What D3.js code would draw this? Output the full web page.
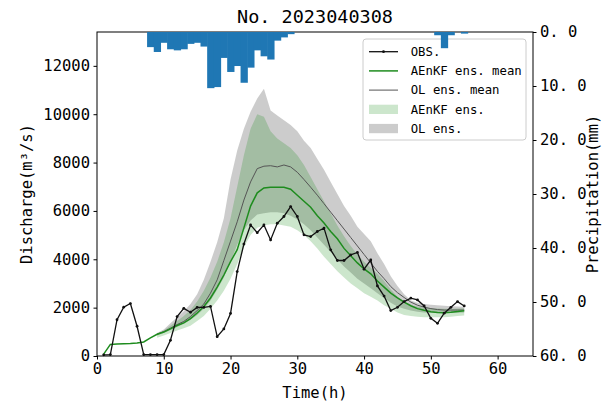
<!DOCTYPE html>
<meta charset="utf-8">
<script src="https://d3js.org/d3.v7.min.js"></script>
<style>
  body { margin: 0; background: #fff; }
  text { font-family: "DejaVu Sans Mono", "Liberation Mono", monospace; }
</style>
<div id="my_dataviz"></div>
<script>

// ---- data ----
// hourly series, hour 1 .. 55
var hours = d3.range(1, 56);
var obs = [50, 60, 1500, 2020, 2170, 1230, 60, 60, 60, 60,
  650, 1630, 1970, 1810, 2010, 2010, 2050, 800, 1120, 1760,
  3490, 4630, 5420, 5100, 5420, 4800, 5490, 5770, 6180, 5770,
  5010, 4940, 5150, 5290, 4390, 3950, 3950, 4180, 4280, 3590,
  3970, 2900, 2480, 1880, 2015, 2250, 2390, 2320, 2070, 1560,
  1350, 1770, 2015, 2250, 2070];
var aenkfMean = [80, 480, 500, 510, 520, 540, 580, 750, 900, 990,
  1120, 1260, 1370, 1550, 1780, 2050, 2400, 2850, 3350, 3900,
  4400, 5300, 6200, 6750, 6950, 6980, 6980, 6980, 6900, 6650,
  6400, 6150, 5800, 5500, 5150, 4850, 4450, 4150, 3850, 3600,
  3400, 3100, 2850, 2600, 2400, 2230, 2080, 1960, 1890, 1830,
  1800, 1790, 1810, 1840, 1870];

// ensemble series, hour 9 .. 55
var ensHours = d3.range(9, 56);
var olMean = [900, 1010, 1150, 1300, 1430, 1630, 1880, 2150, 2600, 3150,
  3950, 4750, 5550, 6450, 7200, 7750, 7850, 7870, 7820, 7900,
  7820, 7600, 7300, 6980, 6650, 6300, 5950, 5600, 5250, 4900,
  4550, 4200, 3850, 3500, 3200, 2870, 2620, 2420, 2230, 2100,
  2020, 1960, 1920, 1900, 1900, 1900, 1900];
var olUpper = [950, 1100, 1350, 1600, 1850, 2150, 2550, 3150, 3900, 4700,
  5700, 7300, 8500, 9400, 10100, 10650, 11050, 10150, 9950, 9750,
  9550, 9300, 8900, 8600, 8150, 7700, 7200, 6700, 6200, 5800,
  5350, 5050, 4750, 4250, 3800, 3300, 2900, 2550, 2300, 2200,
  2150, 2120, 2100, 2080, 2060, 2050, 2040];
var olLower = [850, 950, 1080, 1200, 1330, 1500, 1700, 1950, 2300, 2750,
  3250, 3900, 4600, 5200, 5600, 5850, 5900, 5950, 5950, 5900,
  5800, 5650, 5450, 5200, 4900, 4600, 4300, 4000, 3700, 3450,
  3200, 3000, 2800, 2600, 2400, 2200, 2050, 1950, 1880, 1830,
  1800, 1790, 1780, 1780, 1780, 1790, 1800];
var aenkfUpper = [920, 1050, 1250, 1450, 1650, 1900, 2250, 2700, 3250, 3900,
  4700, 5700, 7000, 8300, 9400, 10000, 9900, 9300, 9000, 8800,
  8600, 8300, 7900, 7400, 6900, 6400, 5900, 5400, 4950, 4550,
  4200, 3900, 3650, 3400, 3100, 2750, 2450, 2250, 2100, 2050,
  2000, 1980, 1960, 1950, 1950, 1960, 1970];
var aenkfLower = [750, 850, 950, 1050, 1150, 1250, 1450, 1650, 1950, 2300,
  2700, 3200, 3800, 4500, 5000, 5300, 5400, 5450, 5450, 5400,
  5350, 5200, 5000, 4750, 4450, 4100, 3800, 3500, 3250, 3000,
  2800, 2600, 2450, 2300, 2100, 1950, 1800, 1700, 1650, 1620,
  1600, 1600, 1600, 1600, 1620, 1650, 1680];

// precipitation bars (mm)
var precipHours = [8, 9, 10, 11, 12, 13, 14, 15, 16, 17, 18, 19, 20, 21, 22, 23, 24, 25, 26, 27, 28, 29, 51, 52, 53, 55];
var precipValues = [2.8, 3.7, 2.0, 3.2, 3.4, 3.2, 2.2, 2.0, 2.7, 10.4, 10.2, 4.8, 7.4, 6.3, 9.4, 6.6, 3.4, 4.5, 5.1, 1.6, 1.0, 0.4, 0.6, 3.0, 0.6, 0.3];

var xTicks = [0, 10, 20, 30, 40, 50, 60];
var yTicks = [0, 2000, 4000, 6000, 8000, 10000, 12000];
var pTicks = [0, 10, 20, 30, 40, 50, 60];

var legendItems = [
  {label: "OBS.", kind: "obs"},
  {label: "AEnKF ens. mean", kind: "aenkfLine"},
  {label: "OL ens. mean", kind: "olLine"},
  {label: "AEnKF ens.", kind: "aenkfBand"},
  {label: "OL ens.", kind: "olBand"}
];

// ---- layout ----
var margin = {top: 32, right: 70, bottom: 52, left: 97},
    width = 603 - margin.left - margin.right,
    height = 408 - margin.top - margin.bottom;

var svg = d3.select("#my_dataviz")
  .append("svg")
    .attr("width", width + margin.left + margin.right)
    .attr("height", height + margin.top + margin.bottom)
  .append("g")
    .attr("transform", "translate(" + margin.left + "," + margin.top + ")");

var x = d3.scaleLinear().domain([0, 65.3]).range([0, width]);
var y = d3.scaleLinear().domain([0, 13400]).range([height, 0]);
var y2 = d3.scaleLinear().domain([0, 60]).range([0, height]);

var greenCol = "#1e8c1e", olCol = "#555555", barCol = "#1f77b4";
var olFill = "rgba(128,128,128,0.4)", aenkfFill = "rgba(0,128,0,0.2)";

// bands
var olBand = d3.area()
  .x(function(d, i) { return x(ensHours[i]); })
  .y0(function(d, i) { return y(olLower[i]); })
  .y1(function(d, i) { return y(olUpper[i]); });
var aenkfBand = d3.area()
  .x(function(d, i) { return x(ensHours[i]); })
  .y0(function(d, i) { return y(aenkfLower[i]); })
  .y1(function(d, i) { return y(aenkfUpper[i]); });

svg.append("path").datum(ensHours).attr("d", olBand).attr("fill", olFill);
svg.append("path").datum(ensHours).attr("d", aenkfBand).attr("fill", aenkfFill);

// lines
var lineHourly = d3.line()
  .x(function(d, i) { return x(hours[i]); })
  .y(function(d) { return y(d); });
var lineEns = d3.line()
  .x(function(d, i) { return x(ensHours[i]); })
  .y(function(d) { return y(d); });

svg.append("path").datum(olMean).attr("d", lineEns)
  .attr("fill", "none").attr("stroke", olCol).attr("stroke-width", 1);
svg.append("path").datum(aenkfMean).attr("d", lineHourly)
  .attr("fill", "none").attr("stroke", greenCol).attr("stroke-width", 1.5);
svg.append("path").datum(obs).attr("d", lineHourly)
  .attr("fill", "none").attr("stroke", "#111").attr("stroke-width", 1.3);
svg.append("g").selectAll("circle")
  .data(obs)
  .enter().append("circle")
    .attr("cx", function(d, i) { return x(hours[i]); })
    .attr("cy", function(d) { return y(d); })
    .attr("r", 1.4)
    .attr("fill", "#111");

// axes
var fs = "15.5px";
var gx = svg.append("g")
  .attr("transform", "translate(0," + height + ")")
  .call(d3.axisBottom(x).tickValues(xTicks).tickSize(3.5).tickPadding(3.5).tickSizeOuter(0));
var gy = svg.append("g")
  .call(d3.axisLeft(y).tickValues(yTicks).tickSize(3.5).tickPadding(3.5).tickSizeOuter(0)
    .tickFormat(d3.format("d")));
var gy2 = svg.append("g")
  .attr("transform", "translate(" + width + ",0)")
  .call(d3.axisRight(y2).tickValues(pTicks).tickSize(3.5).tickPadding(3.5).tickSizeOuter(0)
    .tickFormat(function(d) { return d3.format(".1f")(d).replace(".", ". "); }));
[gx, gy, gy2].forEach(function(g) {
  g.selectAll("text").style("font-size", fs).attr("fill", "#000")
    .style("font-family", "'DejaVu Sans Mono', 'Liberation Mono', monospace");
  g.select(".domain").remove();
  g.selectAll("line").attr("stroke", "#000");
});

// frame
svg.append("rect")
  .attr("width", width).attr("height", height)
  .attr("fill", "none").attr("stroke", "#000").attr("stroke-width", 1);

// labels
svg.append("text")
  .attr("x", width / 2).attr("y", -9)
  .attr("text-anchor", "middle")
  .style("font-size", "18.5px")
  .text("No. 2023040308");
svg.append("text")
  .attr("x", width / 2).attr("y", height + 42)
  .attr("text-anchor", "middle")
  .style("font-size", fs)
  .text("Time(h)");
svg.append("text")
  .attr("transform", "translate(" + (-65) + "," + (height / 2) + ") rotate(-90)")
  .attr("text-anchor", "middle")
  .style("font-size", fs)
  .text("Discharge(m³/s)");
svg.append("text")
  .attr("transform", "translate(" + (width + 65) + "," + (height / 2) + ") rotate(-90)")
  .attr("text-anchor", "middle")
  .style("font-size", fs)
  .text("Precipitation(mm)");

// legend
var lx = 363 - margin.left, ly = 39 - margin.top;
var legend = svg.append("g").attr("transform", "translate(" + lx + "," + ly + ")");
legend.append("rect")
  .attr("width", 163).attr("height", 101).attr("rx", 3)
  .attr("fill", "rgba(255,255,255,0.8)").attr("stroke", "#cccccc");
var rows = legend.selectAll("g.row")
  .data(legendItems)
  .enter().append("g")
    .attr("class", "row")
    .attr("transform", function(d, i) { return "translate(6," + (12.7 + i * 19.2) + ")"; });
rows.each(function(d) {
  var g = d3.select(this);
  if (d.kind === "obs") {
    g.append("line").attr("x1", 0).attr("x2", 29).attr("stroke", "#111").attr("stroke-width", 1.3);
    g.append("circle").attr("cx", 14.5).attr("r", 1.4).attr("fill", "#111");
  } else if (d.kind === "aenkfLine") {
    g.append("line").attr("x1", 0).attr("x2", 29).attr("stroke", greenCol).attr("stroke-width", 1.5);
  } else if (d.kind === "olLine") {
    g.append("line").attr("x1", 0).attr("x2", 29).attr("stroke", olCol).attr("stroke-width", 1);
  } else {
    g.append("rect").attr("x", 0).attr("y", -4.6).attr("width", 29).attr("height", 9.3)
      .attr("fill", d.kind === "aenkfBand" ? aenkfFill : olFill);
  }
  g.append("text").attr("x", 41.7).attr("dy", "0.35em")
    .style("font-size", "12.3px").text(d.label);
});

// precipitation bars (drawn last, on top of legend)
svg.append("g").selectAll("rect")
  .data(precipValues)
  .enter().append("rect")
    .attr("x", function(d, i) { return x(precipHours[i] - 0.5); })
    .attr("y", y2(0))
    .attr("width", x(1) - x(0) + 0.6)
    .attr("height", function(d) { return y2(d) - y2(0); })
    .attr("fill", barCol);

</script>
